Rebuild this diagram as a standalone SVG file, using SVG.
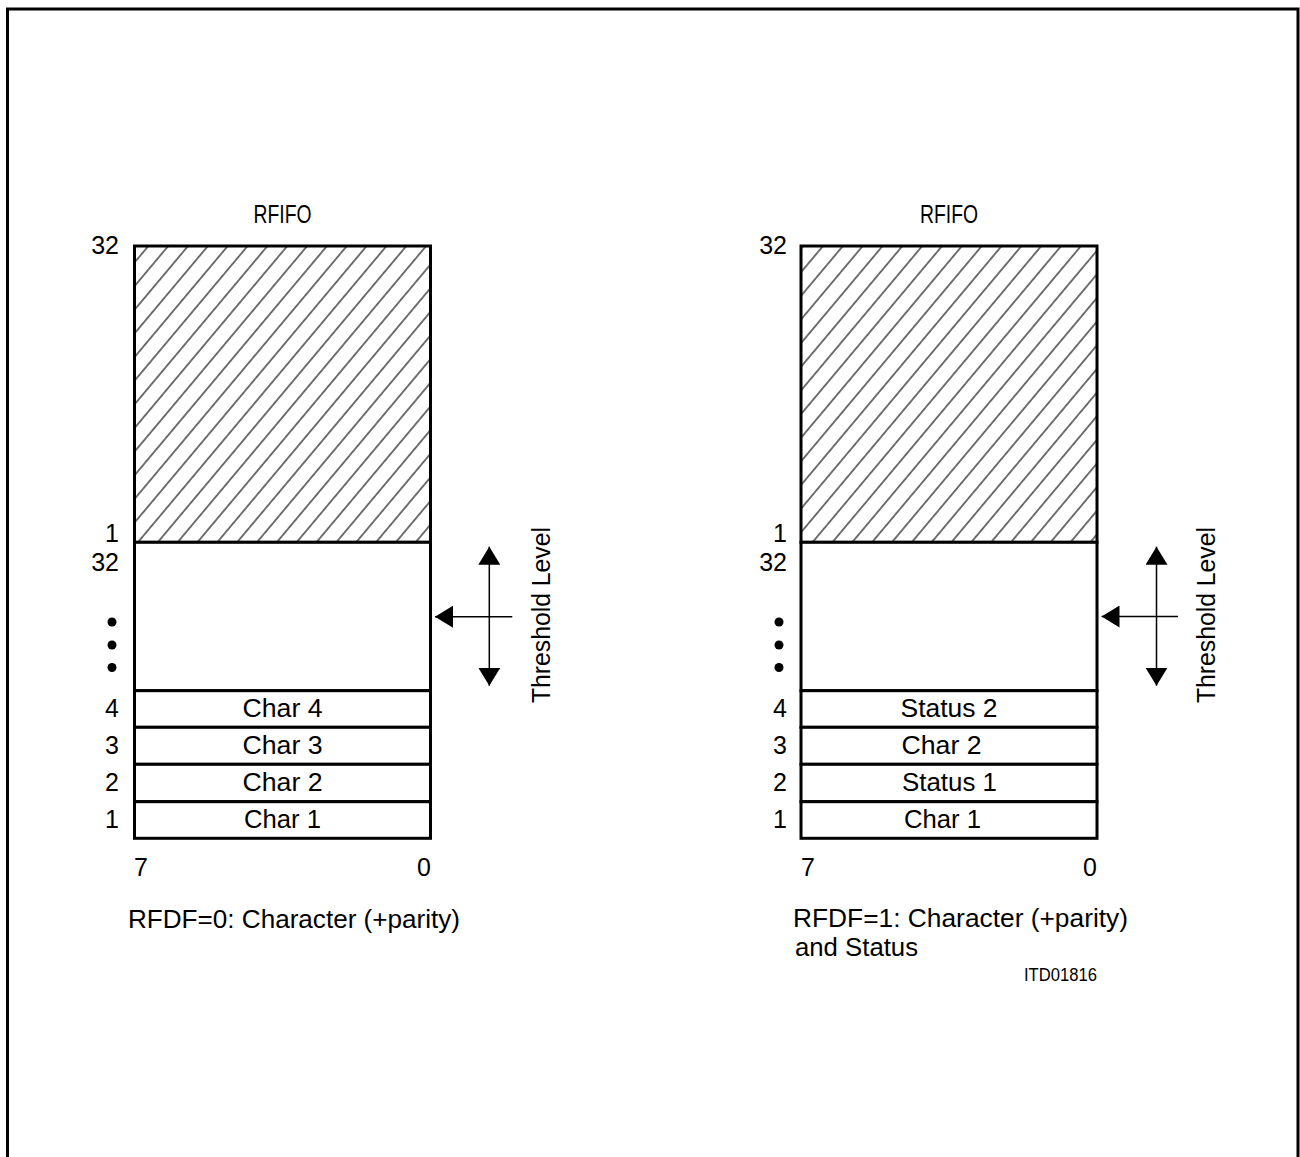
<svg xmlns="http://www.w3.org/2000/svg" width="1300" height="1157" viewBox="0 0 1300 1157">
<style>
text{font-family:"Liberation Sans",Arial,sans-serif;font-size:25px;fill:#000}
.row{fill:#fff;stroke:#000;stroke-width:3}
.hatch{fill:url(#hatch);stroke:#000;stroke-width:3}
.conn{stroke:#000;stroke-width:1.5;fill:none;marker-end:url(#arr)}
.mid{text-anchor:middle}
.end{text-anchor:end}
.id{font-size:18px}
</style>
<defs>
<pattern id="hatch" patternUnits="userSpaceOnUse" x="5.8" y="0" width="15.2" height="20" patternTransform="rotate(40)">
<line x1="7.6" y1="-1" x2="7.6" y2="21" stroke="#000" stroke-width="1.1"/>
</pattern>
<marker id="arr" viewBox="0 0 18 22" refX="18" refY="11" markerWidth="18" markerHeight="22" markerUnits="userSpaceOnUse" orient="auto">
<path d="M0,0 L18,11 L0,22 z" fill="#000"/>
</marker>
</defs>
<rect fill="#fff" x="0" y="0" width="1300" height="1157"/>
<rect x="7.5" y="9" width="1290.5" height="1170" fill="none" stroke="#000" stroke-width="3"/>

<g id="fifo-left">
<text class="mid" x="282.5" y="223" textLength="58" lengthAdjust="spacingAndGlyphs">RFIFO</text>
<rect class="hatch" x="134.5" y="246" width="296" height="296.3"/>
<rect class="row" x="134.5" y="542.3" width="296" height="148.4"/>
<rect class="row" x="134.5" y="690.7" width="296" height="36.6"/>
<rect class="row" x="134.5" y="727.3" width="296" height="37"/>
<rect class="row" x="134.5" y="764.3" width="296" height="37.4"/>
<rect class="row" x="134.5" y="801.7" width="296" height="36.6"/>
<text class="mid" x="282.5" y="717" textLength="80" lengthAdjust="spacingAndGlyphs">Char 4</text>
<text class="mid" x="282.5" y="754" textLength="80" lengthAdjust="spacingAndGlyphs">Char 3</text>
<text class="mid" x="282.5" y="791" textLength="80" lengthAdjust="spacingAndGlyphs">Char 2</text>
<text class="mid" x="282.5" y="828" textLength="77" lengthAdjust="spacingAndGlyphs">Char 1</text>
<text class="end" x="119" y="254">32</text>
<text class="end" x="119" y="542">1</text>
<text class="end" x="119" y="571">32</text>
<circle cx="112" cy="622" r="4.5"/>
<circle cx="112" cy="645" r="4.5"/>
<circle cx="112" cy="667.5" r="4.5"/>
<text class="end" x="119" y="717">4</text>
<text class="end" x="119" y="754">3</text>
<text class="end" x="119" y="791">2</text>
<text class="end" x="119" y="828">1</text>
<text x="134" y="876">7</text>
<text class="end" x="431" y="876">0</text>
<text x="128" y="928" textLength="332" lengthAdjust="spacingAndGlyphs">RFDF=0: Character (+parity)</text>
<text class="mid" transform="translate(550,615) rotate(-90)" x="0" y="0" textLength="176" lengthAdjust="spacingAndGlyphs">Threshold  Level</text>
</g>

<g id="fifo-right">
<text class="mid" x="949" y="223" textLength="58" lengthAdjust="spacingAndGlyphs">RFIFO</text>
<rect class="hatch" x="801" y="246" width="296" height="296.3"/>
<rect class="row" x="801" y="542.3" width="296" height="148.4"/>
<rect class="row" x="801" y="690.7" width="296" height="36.6"/>
<rect class="row" x="801" y="727.3" width="296" height="37"/>
<rect class="row" x="801" y="764.3" width="296" height="37.4"/>
<rect class="row" x="801" y="801.7" width="296" height="36.6"/>
<text class="mid" x="949" y="717" textLength="97" lengthAdjust="spacingAndGlyphs">Status 2</text>
<text class="mid" x="941.5" y="754" textLength="80" lengthAdjust="spacingAndGlyphs">Char 2</text>
<text class="mid" x="949.5" y="791" textLength="95" lengthAdjust="spacingAndGlyphs">Status 1</text>
<text class="mid" x="942.5" y="828" textLength="77" lengthAdjust="spacingAndGlyphs">Char 1</text>
<text class="end" x="787" y="254">32</text>
<text class="end" x="787" y="542">1</text>
<text class="end" x="787" y="571">32</text>
<circle cx="779" cy="622" r="4.5"/>
<circle cx="779" cy="645" r="4.5"/>
<circle cx="779" cy="667.5" r="4.5"/>
<text class="end" x="787" y="717">4</text>
<text class="end" x="787" y="754">3</text>
<text class="end" x="787" y="791">2</text>
<text class="end" x="787" y="828">1</text>
<text x="801" y="876">7</text>
<text class="end" x="1097" y="876">0</text>
<text x="793" y="927" textLength="335" lengthAdjust="spacingAndGlyphs">RFDF=1: Character (+parity)</text>
<text x="795" y="956" textLength="123" lengthAdjust="spacingAndGlyphs">and Status</text>
<text class="mid" transform="translate(1215,615) rotate(-90)" x="0" y="0" textLength="176" lengthAdjust="spacingAndGlyphs">Threshold  Level</text>
<text class="id" x="1024" y="981" textLength="73" lengthAdjust="spacingAndGlyphs">ITD01816</text>
</g>

<g id="connectors">
<line class="conn" x1="489.3" y1="616.7" x2="489.3" y2="546.7"/>
<line class="conn" x1="489.3" y1="616.7" x2="489.3" y2="685.7"/>
<line class="conn" x1="512.3" y1="616.7" x2="435" y2="616.7"/>
<line class="conn" x1="1156.5" y1="616.5" x2="1156.5" y2="546.7"/>
<line class="conn" x1="1156.5" y1="616.5" x2="1156.5" y2="685.7"/>
<line class="conn" x1="1178" y1="616.5" x2="1101.5" y2="616.5"/>
</g>
</svg>
